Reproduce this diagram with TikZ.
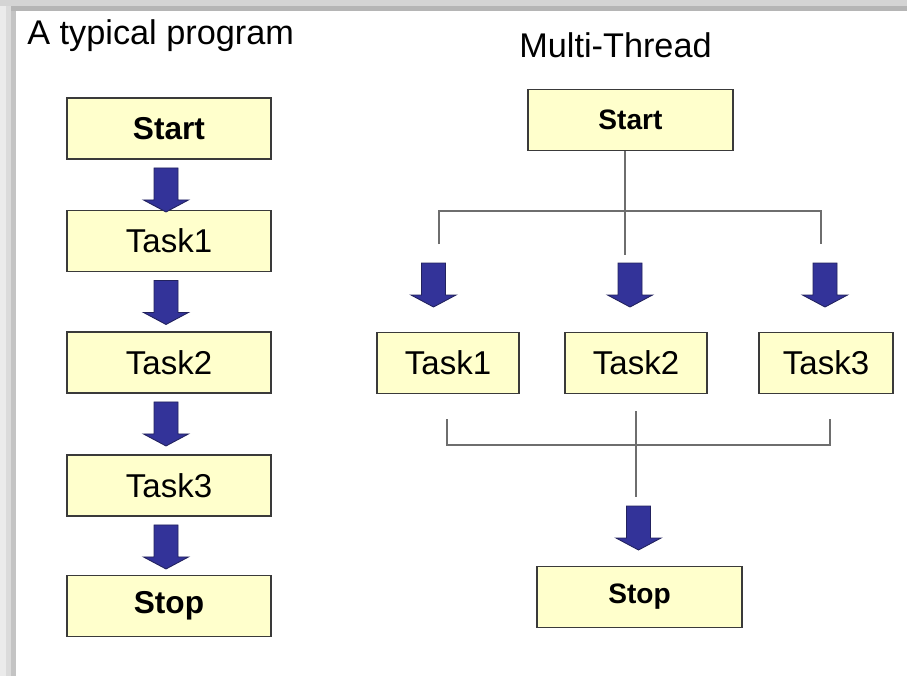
\documentclass[tikz,border=0pt]{standalone}
\usepackage{fontspec}
\setmainfont{Liberation Sans}
\usetikzlibrary{calc}
\definecolor{boxfill}{HTML}{FFFFCC}
\definecolor{boxedge}{HTML}{3A3A3A}
\definecolor{arrowblue}{HTML}{333399}
\definecolor{arrowedge}{HTML}{22225E}
\definecolor{wiregray}{HTML}{6E6E6E}

\begin{document}
\begin{tikzpicture}[x=0.02cm, y=-0.02cm,
  box/.style={draw=boxedge, line width=1.1pt, fill=boxfill, inner sep=0pt, minimum height=1.22cm, font=\fontsize{18.8}{21}\selectfont},
  wide/.style={minimum width=4.08cm},
  bigbold/.style={font=\fontsize{18}{20}\selectfont\bfseries},
  smallbold/.style={font=\fontsize{16}{18}\selectfont\bfseries},
  title/.style={anchor=base west, inner sep=0pt, font=\fontsize{19.5}{22}\selectfont},
  wire/.style={draw=wiregray, line width=0.8pt},
  blockfill/.style={fill=arrowblue, draw=arrowedge, line width=0.5pt, line join=miter}]

% Define dimensions
\def\arrowlen{44}
\def\shafthalf{12}
\def\headhalf{22.5}
\def\headlen{12}
\def\blockarrow#1{%
  \filldraw[blockfill] ($(#1)+(-\shafthalf,0)$) -- ($(#1)+(-\shafthalf,\arrowlen-\headlen)$)
    -- ($(#1)+(-\headhalf,\arrowlen-\headlen)$) -- ($(#1)+(0,\arrowlen)$)
    -- ($(#1)+(\headhalf,\arrowlen-\headlen)$) -- ($(#1)+(\shafthalf,\arrowlen-\headlen)$)
    -- ($(#1)+(\shafthalf,0)$) -- cycle;}

% Page and slide shadow
\fill[white] (0,0) rectangle (907,676);
\useasboundingbox (0,0) rectangle (907,676);
\fill[black!17] (0,0) rectangle (907,6);
\fill[black!29] (11,6) rectangle (907,11);
\fill[black!8] (0,6) rectangle (6,676);
\fill[black!14] (6,6) rectangle (11,676);
\fill[black!23] (11,11) rectangle (16,676);

% Titles
\node[title] (ltitle) at (27,45) {A typical program};
\node[title] (rtitle) at (519,57) {Multi-Thread};

% Left column: one task after the other
\node[box, wide, bigbold] (lstart) at (169,128.5) {Start};
\node[box, wide] (ltask1) at (169,241) {Task1};
\node[box, wide] (ltask2) at (169,362.5) {Task2};
\node[box, wide] (ltask3) at (169,485.5) {Task3};
\node[box, wide, bigbold] (lstop) at (169,606) {Stop};

\coordinate (lout1) at ($(lstart.south)+(-3,8)$);
\coordinate (lout2) at ($(ltask1.south)+(-3,8)$);
\coordinate (lout3) at ($(ltask2.south)+(-3,8)$);
\coordinate (lout4) at ($(ltask3.south)+(-3,8)$);
\blockarrow{lout1}
\blockarrow{lout2}
\blockarrow{lout3}
\blockarrow{lout4}

% Right column: tasks side by side
\node[box, minimum width=4.1cm, smallbold] (rstart) at (630.5,120) {Start};
\node[box, minimum width=2.84cm] (rtask1) at (448,363) {Task1};
\node[box, minimum width=2.84cm] (rtask2) at (636,363) {Task2};
\node[box, minimum width=2.68cm] (rtask3) at (826,363) {Task3};
\node[box, minimum width=4.1cm, smallbold] (rstop) at (639.5,597) {Stop};

% Fork below Start
\coordinate (fork) at (625,211);
\coordinate (split1) at (439,244);
\coordinate (split2) at (625,255);
\coordinate (split3) at (821,244);
\draw[wire] (fork |- rstart.south) -- (split2);
\draw[wire] (split1) -- (split1 |- fork) -- (split3 |- fork) -- (split3);

\coordinate (rin1) at (433.5,263);
\coordinate (rin2) at (630,263);
\coordinate (rin3) at (825,263);
\blockarrow{rin1}
\blockarrow{rin2}
\blockarrow{rin3}

% Join above Stop
\coordinate (join) at (636,445);
\coordinate (merge1) at (447,419);
\coordinate (merge3) at (830,419);
\coordinate (mergetop) at (636,411);
\coordinate (mergeend) at (636,497);
\draw[wire] (merge1) -- (merge1 |- join) -- (merge3 |- join) -- (merge3);
\draw[wire] (mergetop) -- (mergeend);

\coordinate (rin4) at (638.5,506);
\blockarrow{rin4}
\end{tikzpicture}
\end{document}
